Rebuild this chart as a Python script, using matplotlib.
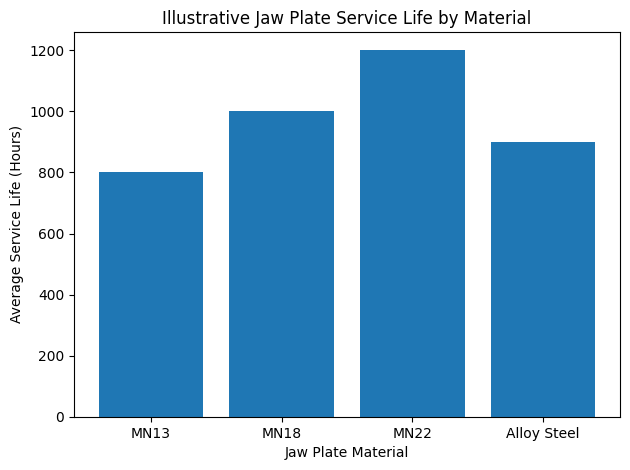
import matplotlib
matplotlib.use('Agg')
import matplotlib.pyplot as plt

# 재질별 평균 수명 데이터
materials = ['MN13', 'MN18', 'MN22', 'Alloy Steel']
service_life = [800, 1000, 1200, 900]

fig, ax = plt.subplots(figsize=(6.3, 4.7), dpi=100)
ax.bar(materials, service_life)

ax.set_xlabel('Jaw Plate Material')
ax.set_ylabel('Average Service Life (Hours)')
ax.set_title('Illustrative Jaw Plate Service Life by Material')

# 참조 그림 여백에 맞춤
fig.subplots_adjust(left=0.1175, right=0.984, top=0.932, bottom=0.113)
plt.savefig('out.png')
